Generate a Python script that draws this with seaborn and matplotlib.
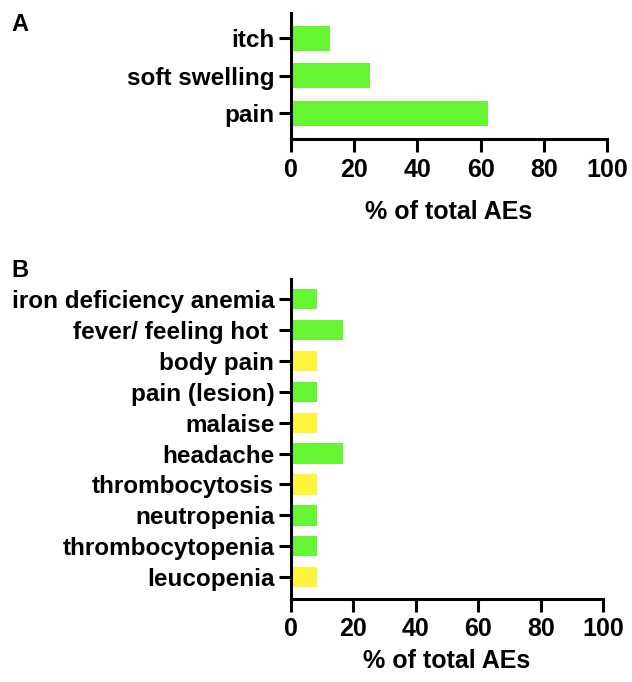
import matplotlib
matplotlib.use("Agg")
import matplotlib.pyplot as plt
import seaborn as sns
import pandas as pd

# Panel A data
a_labels = ["itch", "soft swelling", "pain"]
a_values = [12.5, 25.0, 62.5]

# Panel B data
b_labels = ["iron deficiency anemia", "fever/ feeling hot ", "body pain", "pain (lesion)",
            "malaise", "headache", "thrombocytosis", "neutropenia",
            "thrombocytopenia", "leucopenia"]
b_values = [8.33, 16.67, 8.33, 8.33, 8.33, 16.67, 8.33, 8.33, 8.33, 8.33]
b_kind = ["g", "g", "y", "g", "y", "g", "y", "g", "g", "y"]

x_ticks = [0, 20, 40, 60, 80, 100]

GREEN = "#66f533"
YELLOW = "#fff43c"

sns.set_style("ticks")
plt.rcParams["font.family"] = ["Liberation Sans", "DejaVu Sans"]
plt.rcParams["font.weight"] = "bold"
plt.rcParams["text.color"] = "black"
plt.rcParams["axes.labelcolor"] = "black"
plt.rcParams["xtick.color"] = "black"
plt.rcParams["ytick.color"] = "black"

fig = plt.figure(figsize=(6.32, 6.82), dpi=100)

def style_axis(ax, ylim, labelpad):
    ax.set_xlim(0, 100)
    ax.set_ylim(*ylim)
    ax.set_xticks(x_ticks)
    ax.set_xticklabels([str(t) for t in x_ticks], fontsize=18, fontweight="bold")
    ax.tick_params(axis="x", length=9, width=2.2, pad=4, color="black", labelcolor="black")
    ax.tick_params(axis="y", length=9, width=2.2, pad=3, color="black", labelcolor="black")
    for lab in ax.get_yticklabels():
        lab.set_fontsize(17.5)
        lab.set_fontweight("bold")
    for side in ["left", "bottom"]:
        ax.spines[side].set_linewidth(2.2)
        ax.spines[side].set_color("black")
    sns.despine(ax=ax)
    ax.set_ylabel("")
    ax.set_xlabel("% of total AEs", fontsize=18, fontweight="bold", labelpad=labelpad,
                  color="black")

# Panel A
ax_a = fig.add_axes([0.4604, 0.7955, 0.5, 0.185])
df_a = pd.DataFrame({"label": a_labels, "value": a_values})
sns.barplot(data=df_a, x="value", y="label", hue="label", palette=[GREEN] * len(a_labels),
            legend=False, width=0.67, saturation=1, orient="h", ax=ax_a, linewidth=0)
style_axis(ax_a, (2.69, -0.66), 13)

# Panel B
ax_b = fig.add_axes([0.4604, 0.1217, 0.494, 0.469])
df_b = pd.DataFrame({"label": b_labels, "value": b_values})
b_palette = [GREEN if k == "g" else YELLOW for k in b_kind]
sns.barplot(data=df_b, x="value", y="label", hue="label", palette=b_palette,
            legend=False, width=0.66, saturation=1, orient="h", ax=ax_b, linewidth=0)
style_axis(ax_b, (9.71, -0.65), 6)

fig.text(0.018, 0.964, "A", fontsize=17, fontweight="bold", va="center")
fig.text(0.018, 0.6034, "B", fontsize=17, fontweight="bold", va="center")

fig.savefig("out.png", dpi=100, facecolor="white")
